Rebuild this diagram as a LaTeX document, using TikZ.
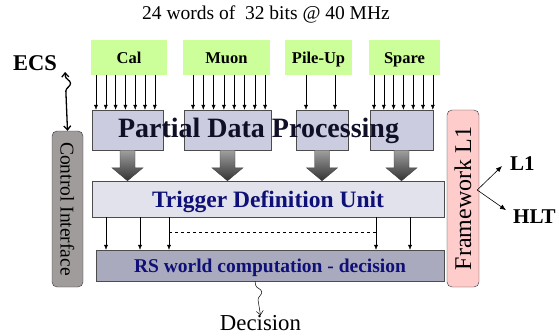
\documentclass[tikz,border=0pt]{standalone}
\usepackage{fontspec}
\setmainfont{Liberation Serif}
\usetikzlibrary{arrows.meta, calc, decorations.pathmorphing}
\definecolor{feedgreen}{RGB}{204, 255, 153}
\definecolor{pdpblue}{RGB}{204, 204, 224}
\definecolor{tdugray}{RGB}{226, 226, 236}
\definecolor{rsgray}{RGB}{170, 170, 190}
\definecolor{labelnavy}{RGB}{15, 15, 120}
\definecolor{pdpink}{RGB}{15, 15, 40}
\definecolor{ctrlgray}{RGB}{160, 156, 156}
\definecolor{fwpink}{RGB}{255, 204, 204}
\tikzset{
    source/.style={rectangle, fill=feedgreen, minimum width=#1, minimum height=35pt, inner sep=0pt, text height=12pt, text depth=0pt, font=\fontsize{16.5}{16.5}\selectfont\bfseries},
    pdpbox/.style={rectangle, draw=gray!60!black, fill=pdpblue, minimum width=#1, minimum height=40pt, inner sep=0pt},
    unitbox/.style={rectangle, draw=gray!60!black, inner sep=0pt, text=labelnavy, text depth=0pt},
    sidebox/.style={rectangle, rounded corners=5pt, draw=gray!40!black, inner sep=0pt},
    feed/.style={-{Latex[length=5pt, width=4pt]}, thin},
    outarrow/.style={-{Latex[length=6pt, width=5pt]}, semithick},
    fatarrow/.style={draw=gray!50!black, thin, top color=gray!75, middle color=gray!15, bottom color=black!80},
    squiggle/.style={decorate, decoration={snake, amplitude=5pt, segment length=24pt, pre length=4pt, post length=#1}}
}
\begin{document}
\begin{tikzpicture}[x=1pt, y=-1pt]
    \useasboundingbox (0,0) rectangle (559,335);

    \node[anchor=base, inner sep=0pt, font=\fontsize{19.5}{19.5}\selectfont] (title) at (266,19) {24 words of~ 32 bits @ 40 MHz};

    % sources
    \node[source=76pt] (cal) at (129,57.5) {Cal};
    \node[source=87pt] (muon) at (226.5,57.5) {Muon};
    \node[source=67pt] (pileup) at (318.5,57.5) {Pile-Up};
    \node[source=71pt] (spare) at (404.5,57.5) {Spare};

    % partial data processing
    \node[pdpbox=71pt] (pdpcal) at (127.5,130) {};
    \node[pdpbox=87pt] (pdpmuon) at (227.5,130) {};
    \node[pdpbox=52pt] (pdppileup) at (322,130) {};
    \node[pdpbox=63pt] (pdpspare) at (401.5,130) {};
    \node[anchor=base, inner sep=0pt, text=pdpink, font=\fontsize{28}{28}\selectfont\bfseries] (pdp) at (258.5,137) {Partial Data Processing};

    \node[unitbox, fill=tdugray, minimum width=352pt, minimum height=36pt, text height=16pt, font=\fontsize{23.5}{23.5}\selectfont\bfseries] (tdu) at (268,199) {Trigger Definition Unit};
    \node[unitbox, fill=rsgray, minimum width=348pt, minimum height=31pt, text height=13pt, font=\fontsize{19.5}{19.5}\selectfont\bfseries] (rs) at (270,265.5) {RS world computation - decision};

    \node[sidebox, fill=ctrlgray, minimum width=31pt, minimum height=156pt, font=\fontsize{19.5}{19.5}\selectfont] (ctrl) at (67.5,209) {\rotatebox{-90}{Control Interface}};
    \node[sidebox, fill=fwpink, minimum width=32pt, minimum height=177pt, font=\fontsize{24}{24}\selectfont] (fw) at (463,198.5) {\rotatebox{90}{Framework L1}};

    \node[anchor=base, inner sep=0pt, font=\fontsize{22.5}{22.5}\selectfont\bfseries] (ecs) at (35,70.5) {ECS};
    \node[anchor=base west, inner sep=0pt, font=\fontsize{21}{21}\selectfont\bfseries] (l1) at (510,170.5) {L1};
    \node[anchor=base west, inner sep=0pt, font=\fontsize{21}{21}\selectfont\bfseries] (hlt) at (513,223) {HLT};
    \node[anchor=base, inner sep=0pt, font=\fontsize{22.8}{22.8}\selectfont] (dec) at (260.5,330.5) {Decision};

    % inputs
    \foreach \x in {96,105.8,...,156} \draw[feed] (\x,0 |- cal.south) -- (\x,0 |- pdpcal.north);
    \foreach \x in {193,203.3,...,266} \draw[feed] (\x,0 |- muon.south) -- (\x,0 |- pdpmuon.north);
    \foreach \x in {306,335} \draw[feed] (\x,0 |- pileup.south) -- (\x,0 |- pdppileup.north);
    \foreach \x in {374,383.8,...,434} \draw[feed] (\x,0 |- spare.south) -- (\x,0 |- pdpspare.north);

    \foreach \n in {pdpcal,pdpmuon,pdppileup,pdpspare} {
        \coordinate (tip) at (\n.south |- tdu.north);
        \shadedraw[fatarrow] ($(\n.south)+(-7.5,0)$) -- ($(tip)+(-7.5,-13)$) -- ($(tip)+(-15.5,-13)$) -- (tip)
            -- ($(tip)+(15.5,-13)$) -- ($(tip)+(7.5,-13)$) -- ($(\n.south)+(7.5,0)$) -- cycle;
    }

    \foreach \x in {106,140,169,376,410} \draw[feed] (\x,0 |- tdu.south) -- (\x,0 |- rs.north);
    \coordinate (gapl) at (169,232);
    \coordinate (gapr) at (376,232);
    \draw[dashed, thin] (gapl) -- (gapr);

    \draw[squiggle=28pt, line width=1.3pt, {Straight Barb[length=4pt, width=7pt]}-{Straight Barb[length=4pt, width=7pt]}] ([xshift=8pt, yshift=-1.5pt]ecs.base east) -- (ctrl.north);
    \draw[squiggle=8pt, line width=0.5pt, -{Straight Barb[length=4pt, width=7pt]}] ([xshift=-15pt]rs.south) -- (dec.north);

    \coordinate (fwout) at ([xshift=-2pt, yshift=8.5pt]fw.east);
    \draw[outarrow] (fwout) -- ([xshift=-8pt, yshift=-2.5pt]l1.west);
    \draw[outarrow] (fwout) -- ([xshift=-7pt, yshift=6pt]hlt.west);
\end{tikzpicture}
\end{document}
